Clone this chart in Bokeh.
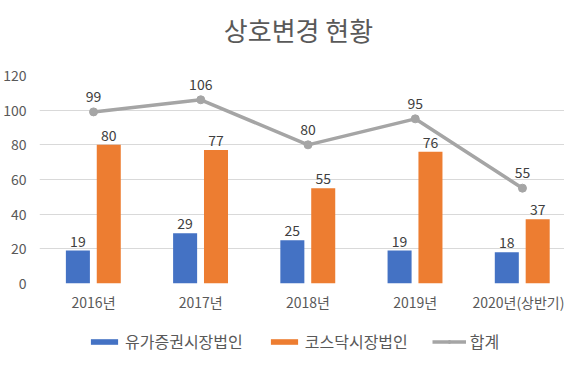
from bokeh.plotting import figure
from bokeh.layouts import column
from bokeh.models import ColumnDataSource, FixedTicker, Legend, LegendItem, Range1d, Label
from bokeh.transform import dodge
from bokeh.core.properties import value
from bokeh.embed import file_html
from bokeh.resources import INLINE

title_text = "상호변경 현황"
categories = ["2016년", "2017년", "2018년", "2019년", "2020년(상반기)"]
kospi = [19, 29, 25, 19, 18]
kosdaq = [80, 77, 55, 76, 37]
total = [99, 106, 80, 95, 55]
y_ticks = [0, 20, 40, 60, 80, 100, 120]
series_names = ["유가증권시장법인", "코스닥시장법인", "합계"]

FONT = "Noto Sans CJK KR"
BLUE = "#4472C4"
ORANGE = "#ED7D31"
GRAY = "#A5A5A5"
TXT = "#595959"
W = 564

idx = list(range(len(categories)))
src = ColumnDataSource(dict(
    x=idx, kospi=kospi, kosdaq=kosdaq, total=total,
    kospi_t=[str(v) for v in kospi],
    kosdaq_t=[str(v) for v in kosdaq],
    total_t=[str(v) for v in total],
))


def bare(h):
    f = figure(width=W, height=h, output_backend="svg", toolbar_location=None,
               x_axis_location=None, y_axis_location=None, title=None,
               x_range=Range1d(100, 101), y_range=Range1d(100, 101),
               min_border_left=0, min_border_right=0, min_border_top=0, min_border_bottom=0)
    f.outline_line_color = None
    f.grid.visible = False
    return f


# ---- title strip
tf = bare(60)
tf.add_layout(Label(x=259, y=31, x_units="screen", y_units="screen", text=title_text,
                    text_font=FONT, text_font_size="26px", text_color=TXT,
                    text_align="center", text_baseline="middle"))

# ---- main chart
p = figure(width=W, height=254, output_backend="svg", toolbar_location=None, title=None,
           x_range=Range1d(-0.504, 4.392), y_range=Range1d(0, 120),
           min_border_left=30, min_border_right=0, min_border_top=15, min_border_bottom=31)
p.outline_line_color = None

bw = 0.224
p.vbar(x=dodge("x", -0.146, range=p.x_range), top="kospi", width=bw, source=src,
       fill_color=BLUE, line_color=None)
p.vbar(x=dodge("x", 0.142, range=p.x_range), top="kosdaq", width=bw, source=src,
       fill_color=ORANGE, line_color=None)
p.line(x="x", y="total", source=src, line_color=GRAY, line_width=3.5)
p.scatter(x="x", y="total", source=src, size=8, fill_color=GRAY, line_color=GRAY)

common = dict(text_font=value(FONT), text_font_size="14px", text_color="#404040",
              text_align="center", text_baseline="bottom")
p.text(x=dodge("x", -0.146, range=p.x_range), y="kospi", text="kospi_t", source=src, y_offset=-4, **common)
p.text(x=dodge("x", 0.142, range=p.x_range), y="kosdaq", text="kosdaq_t", source=src, y_offset=-4, **common)
p.text(x="x", y="total", text="total_t", source=src, y_offset=-10, **common)

p.xaxis.ticker = FixedTicker(ticks=idx)
p.xaxis.major_label_overrides = {i: c for i, c in zip(idx, categories)}
p.yaxis.ticker = FixedTicker(ticks=y_ticks)
for ax in (p.xaxis[0], p.yaxis[0]):
    ax.axis_line_color = None
    ax.major_tick_line_color = None
    ax.minor_tick_line_color = None
    ax.major_label_text_font = FONT
    ax.major_label_text_font_size = "14px"
    ax.major_label_text_color = TXT
p.xaxis.major_label_standoff = 2
p.yaxis.major_label_standoff = 7

p.xgrid.grid_line_color = None
p.ygrid.ticker = FixedTicker(ticks=y_ticks)
p.ygrid.grid_line_color = "#D9D9D9"
p.ygrid.grid_line_width = 1

# ---- legend strip (renderers hold the real data but lie outside the strip's view)
lg = bare(40)
l_blue = lg.vbar(x="x", top="kospi", width=0.2, source=src, fill_color=BLUE, line_color=None)
l_orange = lg.vbar(x="x", top="kosdaq", width=0.2, source=src, fill_color=ORANGE, line_color=None)
l_line = lg.line(x="x", y="total", source=src, line_color=GRAY, line_width=3.5)
l_pts = lg.scatter(x="x", y="total", source=src, size=8, fill_color=GRAY, line_color=GRAY)

legend = Legend(items=[
    LegendItem(label=series_names[0], renderers=[l_blue]),
    LegendItem(label=series_names[1], renderers=[l_orange]),
    LegendItem(label=series_names[2], renderers=[l_line, l_pts]),
], orientation="horizontal", location=(48, 1))
legend.label_text_font = FONT
legend.label_text_font_size = "16px"
legend.label_text_color = TXT
legend.glyph_width = 34
legend.glyph_height = 7
legend.label_height = 16
legend.label_standoff = 4
legend.spacing = 24
legend.padding = 0
legend.margin = 0
legend.border_line_color = None
legend.background_fill_alpha = 0
lg.add_layout(legend)

open("out.html", "w").write(file_html(column(tf, p, lg, spacing=0), INLINE))
